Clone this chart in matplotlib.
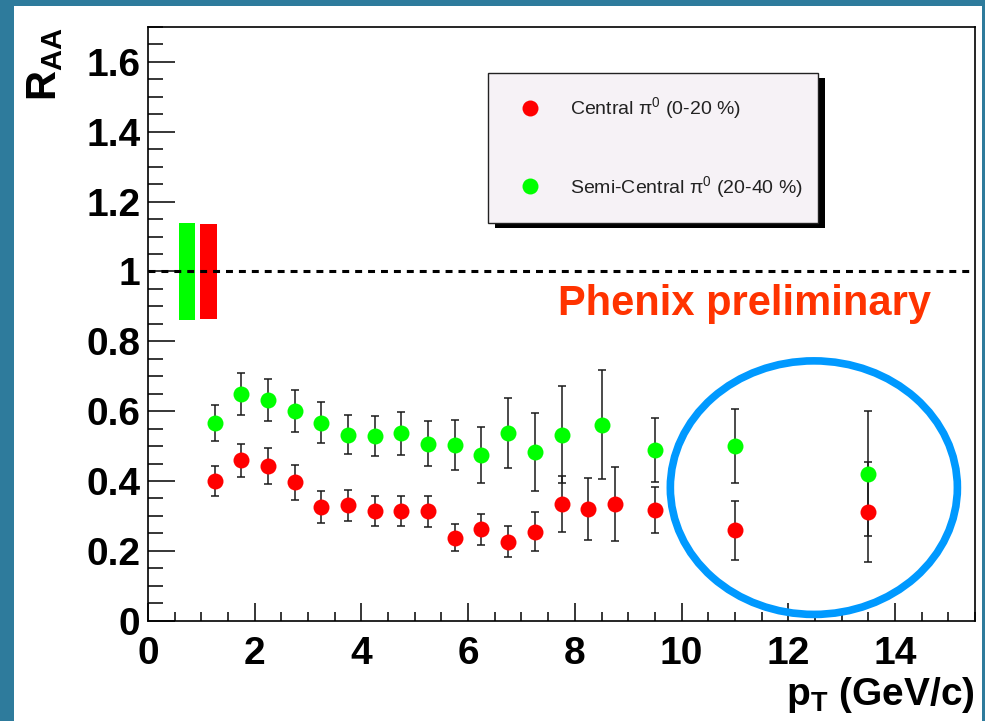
import matplotlib
matplotlib.use("Agg")
import matplotlib.pyplot as plt
from matplotlib.patches import Rectangle, Ellipse
from matplotlib.lines import Line2D

plt.rcParams['font.family'] = ['Liberation Sans', 'DejaVu Sans']
plt.rcParams['mathtext.fontset'] = 'custom'
plt.rcParams['mathtext.rm'] = 'Liberation Sans'
plt.rcParams['mathtext.it'] = 'Liberation Sans:italic'
plt.rcParams['mathtext.bf'] = 'Liberation Sans:bold'
plt.rcParams['lines.scale_dashes'] = False

# ---------------- data ----------------
pt_central = [1.25, 1.75, 2.25, 2.75, 3.25, 3.75, 4.25, 4.75, 5.25, 5.75, 6.25,
              6.75, 7.25, 7.75, 8.25, 8.75, 9.5, 11.0, 13.5]
raa_central = [0.400, 0.459, 0.442, 0.396, 0.326, 0.330, 0.313, 0.313, 0.313, 0.238,
               0.262, 0.226, 0.255, 0.333, 0.320, 0.333, 0.316, 0.259, 0.311]
err_central = [0.042, 0.048, 0.052, 0.050, 0.045, 0.045, 0.043, 0.043, 0.045, 0.038,
               0.044, 0.045, 0.055, 0.080, 0.090, 0.106, 0.066, 0.085, 0.142]

pt_semi = [1.25, 1.75, 2.25, 2.75, 3.25, 3.75, 4.25, 4.75, 5.25, 5.75, 6.25,
           6.75, 7.25, 7.75, 8.5, 9.5, 11.0, 13.5]
raa_semi = [0.566, 0.650, 0.631, 0.600, 0.567, 0.533, 0.529, 0.537, 0.507, 0.504,
            0.474, 0.537, 0.483, 0.533, 0.561, 0.488, 0.500, 0.421]
err_semi = [0.052, 0.060, 0.060, 0.060, 0.058, 0.055, 0.057, 0.062, 0.065, 0.072,
            0.080, 0.100, 0.113, 0.140, 0.156, 0.092, 0.105, 0.179]

# global (normalisation) systematic uncertainties: semi-central, central
glob_sys = [0.138, 0.135]
glob_colors = ['#00ff00', '#ff0000']

labels = ['Central π$^{0}$ (0-20 %)', 'Semi-Central π$^{0}$ (20-40 %)']
xticks = [0, 2, 4, 6, 8, 10, 12, 14]
yticks = [0, 0.2, 0.4, 0.6, 0.8, 1, 1.2, 1.4, 1.6]
ytick_labels = ['0', '0.2', '0.4', '0.6', '0.8', '1', '1.2', '1.4', '1.6']

# ---------------- figure ----------------
W, H = 985, 721
fig = plt.figure(figsize=(W / 100, H / 100), dpi=100)
fig.patch.set_facecolor('#2e7b9c')
fig.add_artist(Rectangle((14 / W, 0), (982 - 14) / W, (H - 6) / H,
                         transform=fig.transFigure, facecolor='white',
                         edgecolor='none', zorder=-10))

ax_l, ax_r, ax_t, ax_b = 148, 975, 27, 620.7
ax = fig.add_axes([ax_l / W, (H - ax_b) / H, (ax_r - ax_l) / W, (ax_b - ax_t) / H])
ax.set_xlim(0, 15.5)
ax.set_ylim(0, 1.7)

# global systematic boxes
ax.bar([0.735, 1.135], [2 * s for s in glob_sys], width=[0.29, 0.31],
       bottom=[1 - s for s in glob_sys], color=glob_colors, edgecolor='none', zorder=2)

# reference line at 1
ax.axhline(1.0, color='black', lw=2.2, dashes=(5.0, 4.3), zorder=3)

# data
eb_kw = dict(fmt='o', ms=11.5, mec='none', ecolor='#1a1a1a', elinewidth=1.1,
             capsize=2.6, capthick=1.1, zorder=4)
ax.errorbar(pt_semi, raa_semi, yerr=err_semi, color='#00ff00', **eb_kw)
ax.errorbar(pt_central, raa_central, yerr=err_central, color='#ff0000', **eb_kw)

# axes styling
for s in ax.spines.values():
    s.set_linewidth(1.2)
    s.set_color('black')
ax.set_xticks(xticks)
ax.set_xticks([i * 0.5 for i in range(32)], minor=True)
ax.set_yticks(yticks)
ax.set_yticklabels(ytick_labels)
ax.set_yticks([i * 0.05 for i in range(35)], minor=True)
ax.tick_params(axis='both', which='both', direction='in', width=1.1, color='black')
ax.tick_params(axis='y', which='major', length=19.5, pad=5.5)
ax.tick_params(axis='y', which='minor', length=10.8)
ax.tick_params(axis='x', which='major', length=13, pad=11)
ax.tick_params(axis='x', which='minor', length=6.5)
for lab in ax.get_xticklabels() + ax.get_yticklabels():
    lab.set_fontsize(28)
    lab.set_fontweight('bold')

# axis labels
ax.set_ylabel(r'$\mathbf{R_{AA}}$', fontsize=30)
ax.yaxis.label.set(rotation_mode='default', ha='center', va='top')
ax.yaxis.set_label_coords((45.5 - ax_l) / (ax_r - ax_l), 1.0)
ax.set_xlabel(r'$\mathbf{p_{T}}$ (GeV/c)', fontsize=28, fontweight='bold')
ax.xaxis.label.set(ha='right', va='baseline')
ax.xaxis.set_label_coords(1.0, (ax_b - 705) / (ax_b - ax_t))

# text
ax.text((558 - ax_l) / (ax_r - ax_l), (ax_b - 315) / (ax_b - ax_t), 'Phenix preliminary',
        transform=ax.transAxes, fontsize=30, fontweight='bold', color='#ff3300',
        ha='left', va='baseline')

# legend box with ROOT-like shadow
def ax_x(px):
    return (px - ax_l) / (ax_r - ax_l)

def ax_y(py):
    return (ax_b - py) / (ax_b - ax_t)

bx0, bx1, by0, by1 = 488, 818, 73, 223
ax.add_patch(Rectangle((ax_x(bx0 + 7), ax_y(by1 + 5)), ax_x(bx1) - ax_x(bx0),
                       ax_y(by0) - ax_y(by1), transform=ax.transAxes,
                       facecolor='black', edgecolor='none', zorder=5))
ax.add_patch(Rectangle((ax_x(bx0), ax_y(by1)), ax_x(bx1) - ax_x(bx0),
                       ax_y(by0) - ax_y(by1), transform=ax.transAxes,
                       facecolor='#f6f2f6', edgecolor='#222222', lw=1.0, zorder=6))
handles = [Line2D([], [], ls='none', marker='o', ms=11.5, mec='none', color=c)
           for c in ['#ff0000', '#00ff00']]
leg = ax.legend(handles, labels, loc='center left',
                bbox_to_anchor=(ax_x(520.3), ax_y(147.5)), frameon=False,
                fontsize=14, handlelength=1.0, handletextpad=1.56,
                borderpad=0, borderaxespad=0, labelspacing=2.7, numpoints=1)
leg.set_zorder(7)
for t in leg.get_texts():
    t.set_color('#222222')

# highlight ellipse
ax.add_patch(Ellipse((12.48, 0.381), 5.38, 0.726, fill=False, edgecolor='#0099ff',
                     lw=5.5, zorder=8, clip_on=False))

fig.savefig('out.png', dpi=100)
